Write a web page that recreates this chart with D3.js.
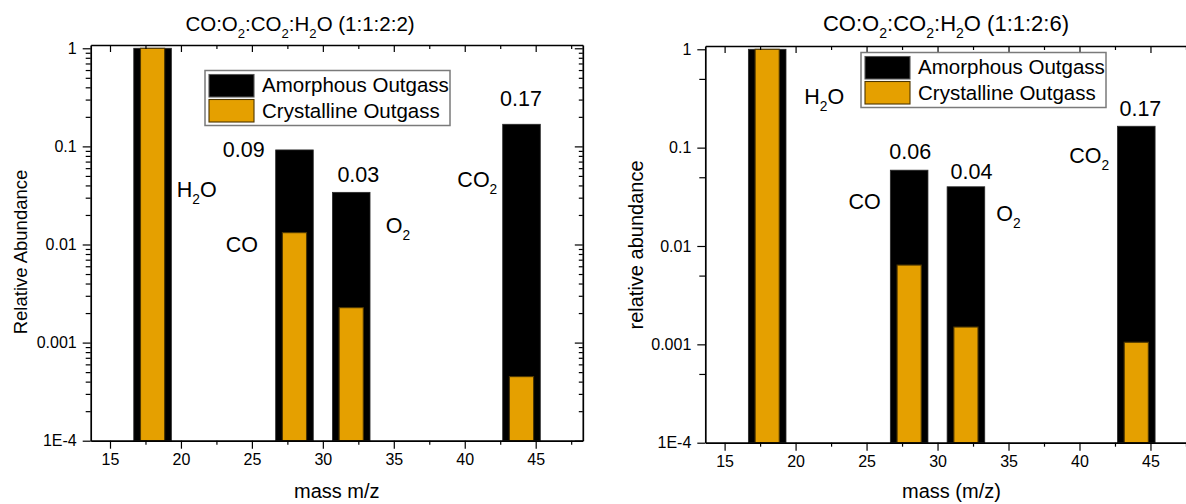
<!DOCTYPE html>
<html><head><meta charset="utf-8">
<script src="https://cdn.jsdelivr.net/npm/d3@7"></script>
<style>
html,body{margin:0;padding:0;background:#fff;}
svg{display:block;font-family:"Liberation Sans",Arial,sans-serif;}
</style></head><body>
<svg id="chart" width="1186" height="504"></svg>
<script>
// ---------------- data ----------------
const species = ["H_2O", "CO", "O_2", "CO_2"];
const masses = [18, 28, 32, 44];
const amorphousA = [1.0, 0.092, 0.034, 0.168];     // 1:1:2:2
const crystallineA = [1.0, 0.0132, 0.00227, 0.00045];
const amorphousB = [1.0, 0.059, 0.040, 0.165];     // 1:1:2:6
const crystallineB = [1.0, 0.0064, 0.0015, 0.00105];
const valueLabelsA = ["0.09", "0.03", "0.17"];     // CO, O2, CO2
const valueLabelsB = ["0.06", "0.04", "0.17"];
const xTicks = [15, 20, 25, 30, 35, 40, 45];
const xMinorTicks = [17.5, 22.5, 27.5, 32.5, 37.5, 42.5, 47.5];
const yTicks = [1, 0.1, 0.01, 0.001, 0.0001];
const yTickLabels = ["1", "0.1", "0.01", "0.001", "1E-4"];
const legendLabels = ["Amorphous Outgass", "Crystalline Outgass"];
const titles = ["CO:O_2:CO_2:H_2O (1:1:2:2)", "CO:O_2:CO_2:H_2O (1:1:2:6)"];
const xLabels = ["mass m/z", "mass (m/z)"];
const yLabels = ["Relative Abundance", "relative abundance"];

// ---------------- layout ----------------
const ORANGE = "#E5A000";
const xDomain = [13.64, 48.32];
const yDomain = [1e-4, 1.08];
const blackW = 2.65, orangeW = 1.70;

const svg = d3.select("#chart");

function rich(textSel, str, size) {
  const parts = str.split(/(_\d)/).filter(s => s.length);
  const shift = size * 0.32;
  let down = false;
  parts.forEach(p => {
    if (p[0] === "_") {
      textSel.append("tspan").attr("font-size", size * 0.64).attr("dy", shift).text(p.slice(1));
      down = true;
    } else {
      const t = textSel.append("tspan").text(p);
      if (down) { t.attr("dy", -shift); down = false; }
    }
  });
}

function drawPanel(cfg) {
  const g = svg.append("g");
  const x = d3.scaleLinear().domain(xDomain).range([cfg.x0, cfg.x1]);
  const y = d3.scaleLog().domain(yDomain).range([cfg.yb, cfg.yt]);
  const base = y(1e-4);

  // bars
  g.selectAll("rect.am").data(masses).join("rect")
    .attr("class", "am")
    .attr("x", d => x(d - blackW / 2))
    .attr("width", d => x(d + blackW / 2) - x(d - blackW / 2))
    .attr("y", (d, i) => y(cfg.am[i]))
    .attr("height", (d, i) => base - y(cfg.am[i]))
    .attr("fill", "#000").attr("stroke", "#2a2a2a").attr("stroke-width", 0.8);
  g.selectAll("rect.cr").data(masses).join("rect")
    .attr("class", "cr")
    .attr("x", d => x(d - orangeW / 2))
    .attr("width", d => x(d + orangeW / 2) - x(d - orangeW / 2))
    .attr("y", (d, i) => y(cfg.cr[i]))
    .attr("height", (d, i) => base - y(cfg.cr[i]))
    .attr("fill", ORANGE).attr("stroke", "#4d3600").attr("stroke-width", 1.1);

  // axes
  const axStyle = sel => {
    sel.selectAll("path.domain").attr("stroke", "#000").attr("stroke-width", 1.7);
    sel.selectAll(".tick line").attr("stroke", "#000").attr("stroke-width", 1.2);
    sel.selectAll(".tick text").attr("font-size", 16).attr("fill", "#000")
      .attr("font-family", '"Liberation Sans",Arial,sans-serif');
  };
  const yMinor = [];
  [1e-4, 1e-3, 1e-2, 1e-1].forEach(dec => cfg.minorMult.forEach(m => yMinor.push(dec * m)));

  // bottom
  g.append("g").attr("transform", `translate(0,${base})`)
    .call(d3.axisBottom(x).tickValues(xTicks).tickSize(8).tickPadding(5).tickSizeOuter(0)).call(axStyle);
  g.append("g").attr("transform", `translate(0,${base})`)
    .call(d3.axisBottom(x).tickValues(xMinorTicks).tickSize(4).tickFormat("")).call(axStyle)
    .select("path.domain").remove();
  // top (inward)
  g.append("g").attr("transform", `translate(0,${cfg.yt})`)
    .call(d3.axisTop(x).tickValues(xTicks).tickSize(-7).tickFormat("").tickSizeOuter(0)).call(axStyle);
  g.append("g").attr("transform", `translate(0,${cfg.yt})`)
    .call(d3.axisTop(x).tickValues(xMinorTicks).tickSize(-4).tickFormat("")).call(axStyle)
    .select("path.domain").remove();
  // left
  g.append("g").attr("transform", `translate(${cfg.x0},0)`)
    .call(d3.axisLeft(y).tickValues(yTicks).tickFormat((d, i) => yTickLabels[i]).tickSize(8).tickPadding(6).tickSizeOuter(0)).call(axStyle);
  g.append("g").attr("transform", `translate(${cfg.x0},0)`)
    .call(d3.axisLeft(y).tickValues(yMinor).tickFormat("").tickSize(cfg.minorLen)).call(axStyle)
    .select("path.domain").remove();
  // right (inward)
  g.append("g").attr("transform", `translate(${cfg.x1},0)`)
    .call(d3.axisRight(y).tickValues(yTicks).tickFormat("").tickSize(-8).tickSizeOuter(0)).call(axStyle);
  g.append("g").attr("transform", `translate(${cfg.x1},0)`)
    .call(d3.axisRight(y).tickValues(yMinor).tickFormat("").tickSize(-4)).call(axStyle)
    .select("path.domain").remove();

  // legend
  const L = cfg.legend;
  const lg = g.append("g").attr("transform", `translate(${L.x},${L.y})`);
  lg.append("rect").attr("width", 245).attr("height", 55)
    .attr("fill", "#fff").attr("stroke", "#7a7a7a").attr("stroke-width", 1.5);
  const swFill = ["#000", ORANGE], swStroke = ["#555", "#4d3600"];
  legendLabels.forEach((lab, i) => {
    lg.append("rect").attr("x", 4).attr("y", 4 + i * 25).attr("width", 45).attr("height", 22.5)
      .attr("fill", swFill[i]).attr("stroke", swStroke[i]).attr("stroke-width", 1.1);
    lg.append("text").attr("x", 57).attr("y", 21.5 + i * 25.5)
      .attr("font-size", 20.5).attr("fill", "#000").text(lab);
  });

  // title
  rich(g.append("text").attr("x", cfg.title.x).attr("y", cfg.title.y)
    .attr("text-anchor", "middle").attr("font-size", cfg.title.size), cfg.titleText, cfg.title.size);

  // axis labels
  g.append("text").attr("x", (cfg.x0 + cfg.x1) / 2).attr("y", 498)
    .attr("text-anchor", "middle").attr("font-size", cfg.xLabelSize).text(cfg.xLabel);
  g.append("text").attr("transform", `translate(${cfg.yLabelX},${cfg.yLabelY}) rotate(-90)`)
    .attr("text-anchor", "middle").attr("font-size", cfg.yLabelSize).text(cfg.yLabel);

  // annotations (species and value labels), anchored in data space
  cfg.annot.forEach(a => {
    const t = g.append("text").attr("x", x(a.m)).attr("y", y(a.v))
      .attr("text-anchor", a.anchor).attr("font-size", 21.5).attr("fill", "#000");
    rich(t, a.text, 21.5);
  });
}

drawPanel({
  x0: 90.7, x1: 582.8, yb: 440.7, yt: 45,
  am: amorphousA, cr: crystallineA,
  minorMult: [2, 3, 4, 5, 6, 7, 8, 9], minorLen: 5,
  legend: {x: 205, y: 70.5},
  title: {x: 300, y: 31, size: 20.5}, titleText: titles[0],
  xLabel: xLabels[0], xLabelSize: 20,
  yLabel: yLabels[0], yLabelSize: 18.5, yLabelX: 27, yLabelY: 252,
  annot: [
    {text: valueLabelsA[0], m: 25.9, v: 0.0774, anchor: "end"},
    {text: valueLabelsA[1], m: 32.5, v: 0.0437, anchor: "middle"},
    {text: valueLabelsA[2], m: 43.96, v: 0.258, anchor: "middle"},
    {text: species[0], m: 19.70, v: 0.0307, anchor: "start"},
    {text: species[1], m: 23.15, v: 0.00832, anchor: "start"},
    {text: species[2], m: 34.43, v: 0.0130, anchor: "start"},
    {text: species[3], m: 39.48, v: 0.0388, anchor: "start"}
  ]
});

drawPanel({
  x0: 705.3, x1: 1197.6, yb: 442.7, yt: 46,
  am: amorphousB, cr: crystallineB,
  minorMult: [5], minorLen: 6,
  legend: {x: 861, y: 52.5},
  title: {x: 946, y: 31, size: 22}, titleText: titles[1],
  xLabel: xLabels[1], xLabelSize: 20,
  yLabel: yLabels[1], yLabelSize: 20, yLabelX: 643, yLabelY: 245,
  annot: [
    {text: valueLabelsB[0], m: 28.08, v: 0.0767, anchor: "middle"},
    {text: valueLabelsB[1], m: 32.39, v: 0.0477, anchor: "middle"},
    {text: valueLabelsB[2], m: 44.29, v: 0.211, anchor: "middle"},
    {text: species[0], m: 20.61, v: 0.276, anchor: "start"},
    {text: species[1], m: 23.73, v: 0.0238, anchor: "start"},
    {text: species[2], m: 34.13, v: 0.0181, anchor: "start"},
    {text: species[3], m: 39.27, v: 0.0693, anchor: "start"}
  ]
});
</script>
</body></html>
